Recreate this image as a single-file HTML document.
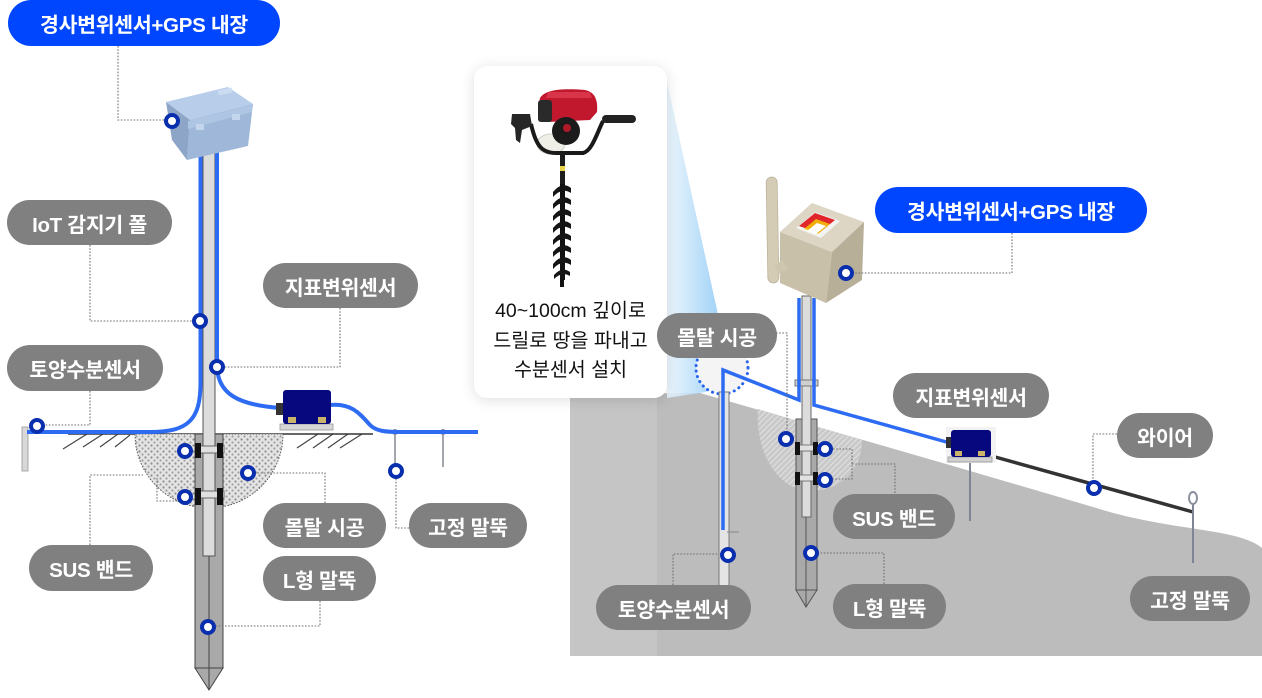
<!DOCTYPE html>
<html><head><meta charset="utf-8">
<style>
html,body{margin:0;padding:0;background:#fff;}
body{width:1262px;height:698px;position:relative;overflow:hidden;font-family:"Liberation Sans","Noto Sans CJK KR",sans-serif;}
svg{position:absolute;left:0;top:0;}
.p{position:absolute;height:45px;border-radius:23px;background:#808080;color:#fff;font-size:20.5px;font-weight:600;display:flex;align-items:center;justify-content:center;white-space:nowrap;letter-spacing:-0.3px;font-family:"Liberation Sans","Noto Sans CJK KR",sans-serif;}
.b{background:#0046ff;height:46px;}
.card{position:absolute;left:474px;top:66px;width:193px;height:332px;background:#fff;border-radius:13px;box-shadow:0 2px 14px rgba(0,0,0,0.13);}
.ct{position:absolute;left:474px;top:297px;width:193px;text-align:center;font-size:19.5px;line-height:29.5px;color:#111;font-family:"Liberation Sans","Noto Sans CJK KR",sans-serif;}
</style></head><body>
<svg width="1262" height="698" viewBox="0 0 1262 698">
<defs>
<pattern id="stip" width="6" height="6" patternUnits="userSpaceOnUse">
<rect width="6" height="6" fill="#e4e4e4"/>
<circle cx="1.5" cy="1.5" r="1.1" fill="#8d8d8d"/>
<circle cx="4.5" cy="4.5" r="1.1" fill="#a0a0a0"/>
</pattern>
<pattern id="hatch" width="4" height="4" patternUnits="userSpaceOnUse" patternTransform="rotate(45)">
<rect width="4" height="4" fill="#c9c9c9"/>
<line x1="0" y1="0" x2="0" y2="4" stroke="#ececec" stroke-width="1.4"/>
</pattern>
<linearGradient id="cone" x1="0" y1="0" x2="1" y2="0">
<stop offset="0" stop-color="#eaf5fd"/>
<stop offset="1" stop-color="#86c5f4"/>
</linearGradient>
</defs>

<!-- ================= LEFT DIAGRAM ================= -->
<g stroke="#444" stroke-width="1.2">
<line x1="63" y1="449" x2="87" y2="434"/><line x1="83" y1="447" x2="103" y2="434"/>
<line x1="100" y1="447" x2="118" y2="434"/><line x1="115" y1="447" x2="130" y2="435"/>
<line x1="297" y1="448" x2="318" y2="434"/><line x1="313" y1="448" x2="333" y2="434"/>
<line x1="328" y1="448" x2="348" y2="434"/><line x1="340" y1="448" x2="362" y2="434"/>
</g>
<line x1="68" y1="434" x2="373" y2="434" stroke="#333" stroke-width="1.5"/>
<path d="M135,434 A74,74 0 0,0 283,434 Z" fill="url(#stip)" stroke="#555" stroke-width="1" stroke-dasharray="1.5 1.5"/>
<rect x="195" y="434" width="28" height="234" fill="#a9a9a9" stroke="#444" stroke-width="1"/>
<polygon points="195,668 223,668 209,690" fill="#a9a9a9" stroke="#444" stroke-width="1"/>
<line x1="195" y1="668" x2="223" y2="668" stroke="#444"/>
<line x1="209" y1="556" x2="209" y2="690" stroke="#444" stroke-width="1"/>
<rect x="203" y="148" width="12" height="408" fill="#dcdcdc" stroke="#555" stroke-width="1"/>
<rect x="199" y="446" width="25" height="7" fill="#e0e0e0" stroke="#666" stroke-width="1"/>
<rect x="195" y="443" width="6" height="15" fill="#111"/><rect x="217" y="443" width="6" height="15" fill="#111"/>
<rect x="199" y="491" width="25" height="7" fill="#e0e0e0" stroke="#666" stroke-width="1"/>
<rect x="195" y="488" width="6" height="17" fill="#111"/><rect x="217" y="488" width="6" height="17" fill="#111"/>
<rect x="22" y="427" width="6" height="44" fill="#d8d8d8" stroke="#999" stroke-width="0.8"/>
<line x1="395" y1="432" x2="395" y2="468" stroke="#8a8f99" stroke-width="1.6"/>
<circle cx="395" cy="432" r="2.5" fill="none" stroke="#8a8f99" stroke-width="1"/>
<line x1="443" y1="432" x2="443" y2="467" stroke="#8a8f99" stroke-width="1.6"/>
<circle cx="443" cy="432" r="2.5" fill="none" stroke="#8a8f99" stroke-width="1"/>
<g fill="none" stroke="#2d6cf2" stroke-width="4">
<path d="M200.5,152 V383 C200.5,420 188,432 150,432 H27"/>
<path d="M217,152 V365 C217,395 240,405 280,408"/>
<path d="M330,405 C352,403 360,414 370,425 C376,431 385,432 400,432 H478"/>
</g>
<rect x="280" y="424" width="53" height="6" fill="#d6d6d6" stroke="#999" stroke-width="0.8"/>
<rect x="276" y="403" width="8" height="12" fill="#333"/>
<rect x="283" y="390" width="48" height="34" rx="3" fill="#07077e"/>
<rect x="288" y="417" width="8" height="6" fill="#c9b46a"/><rect x="318" y="417" width="8" height="6" fill="#c9b46a"/>
<polygon points="166,102 228,87 253,104 190,120" fill="#b7cdea"/>
<polygon points="190,120 253,104 248,146 187,160" fill="#9fb8d9"/>
<polygon points="166,102 190,120 187,160 172,140" fill="#8da6c7"/>
<polygon points="188,121 252,105 252,112 188,129" fill="#aec6e4"/>
<rect x="196" y="124" width="8" height="6" fill="#c3d6ee"/><rect x="232" y="114" width="8" height="6" fill="#c3d6ee"/>
<rect x="218" y="89" width="14" height="5" fill="#cbdcf1" transform="rotate(-12 225 91)"/>

<!-- ================= RIGHT DIAGRAM ================= -->
<path d="M570,394 L700,393 L960,468 L1093,507 C1140,522 1180,526 1215,532 C1240,536 1255,542 1262,548 V656 H570 Z" fill="#bcbcbc"/>
<rect x="570" y="394" width="87" height="262" fill="#c5c5c5"/>
<polygon points="667,82 728,360 706,392 667,398" fill="url(#cone)" opacity="0.88"/>
<path d="M758,409 L862,440 C862,470 840,491 810,491 C780,491 755,455 758,409 Z" fill="url(#hatch)"/>
<circle cx="722" cy="368" r="26" fill="#f4f4f4" stroke="#2563f0" stroke-width="3" stroke-dasharray="0.1 5.5" stroke-linecap="round"/>
<rect x="719" y="392" width="10" height="195" fill="#e4e4e4" stroke="#777" stroke-width="1"/>
<line x1="727" y1="532" x2="739" y2="532" stroke="#888" stroke-width="1"/>
<rect x="796" y="419" width="21" height="171" fill="#a9a9a9" stroke="#555" stroke-width="1"/>
<polygon points="796,590 817,590 806,607" fill="#a9a9a9" stroke="#555" stroke-width="1"/>
<line x1="806" y1="517" x2="806" y2="607" stroke="#555" stroke-width="1"/>
<rect x="802" y="296" width="9" height="221" fill="#dcdcdc" stroke="#666" stroke-width="1"/>
<rect x="795" y="380" width="23" height="6" fill="#cfcfcf" stroke="#777" stroke-width="1"/>
<rect x="798" y="445" width="18" height="6" fill="#e0e0e0" stroke="#666" stroke-width="0.8"/>
<rect x="795" y="442" width="5" height="13" fill="#111"/><rect x="813" y="442" width="5" height="13" fill="#111"/>
<rect x="798" y="475" width="18" height="6" fill="#e0e0e0" stroke="#666" stroke-width="0.8"/>
<rect x="795" y="472" width="5" height="13" fill="#111"/><rect x="813" y="472" width="5" height="13" fill="#111"/>
<g fill="none" stroke="#2d6cf2" stroke-width="3.5">
<path d="M799,298 V400 L723,370 V530"/>
<path d="M814,298 V405 L950,443"/>
</g>
<line x1="988" y1="455" x2="1193" y2="512" stroke="#333" stroke-width="3.5"/>
<line x1="1193" y1="504" x2="1193" y2="563" stroke="#7e8696" stroke-width="2"/>
<ellipse cx="1193" cy="498" rx="4" ry="6" fill="none" stroke="#8a909c" stroke-width="2"/>
<line x1="970" y1="460" x2="970" y2="521" stroke="#7e8696" stroke-width="2"/>
<rect x="946" y="427" width="50" height="36" fill="#f2f2f2"/>
<rect x="948" y="457" width="44" height="5" fill="#d0d0d0" stroke="#999" stroke-width="0.8"/>
<rect x="946" y="437" width="6" height="11" fill="#333"/>
<rect x="951" y="430" width="40" height="27" rx="3" fill="#07077e"/>
<rect x="955" y="451" width="7" height="5" fill="#c9b46a"/><rect x="978" y="451" width="7" height="5" fill="#c9b46a"/>
<rect x="767" y="177" width="11" height="106" rx="5.5" fill="#d5ccb6" stroke="#bdb49d" stroke-width="0.8" transform="rotate(-1 772 230)"/>
<polygon points="780,232 812,203 864,222 832,252" fill="#ddd6c4"/>
<polygon points="780,232 832,252 826,303 780,283" fill="#c9c0aa"/>
<polygon points="832,252 864,222 862,280 826,303" fill="#b8af98"/>
<polygon points="796,228 815,212 840,221 821,238" fill="#f3f3f3"/>
<polygon points="799,226 815,213 835,220 819,233" fill="#e0262b"/>
<polygon points="804,229 816,219 830,224 818,234" fill="#f5d000" opacity="0.8"/>
<polygon points="807,231 817,223 826,226 816,234" fill="#ffffff"/>
<rect x="776" y="262" width="10" height="10" fill="#cfc6b0" transform="rotate(-30 781 267)"/>

<!-- ================= DOTTED LEADERS ================= -->
<g fill="none" stroke="#6e6e6e" stroke-width="1.1" stroke-dasharray="1.6 1.6">
<path d="M118,46 V120 H165"/>
<path d="M90,245 V321 H193"/>
<path d="M340,308 V367 H225"/>
<path d="M90,391 V425 H45"/>
<path d="M90,545 V475 H143"/>
<path d="M157,478 V501 H178"/>
<path d="M325,503 V473 H256"/>
<path d="M320,601 V626 H216"/>
<path d="M409,528 H396 V478"/>
<path d="M1012,233 V273 H855"/>
<path d="M776,333 H787 V431"/>
<path d="M833,449 H852 V479 H833"/>
<path d="M852,464 H895 V494"/>
<path d="M673,585 V554 H719"/>
<path d="M884,584 V553 H820"/>
<path d="M1117,434 H1093 V480"/>
</g>

<!-- ================= MARKERS ================= -->
<g fill="#fff" stroke="#0a2fae" stroke-width="4">
<circle cx="172" cy="121" r="6"/>
<circle cx="200" cy="321" r="6"/>
<circle cx="217" cy="367" r="6"/>
<circle cx="37" cy="426" r="6"/>
<circle cx="185" cy="451" r="6"/>
<circle cx="185" cy="497" r="6"/>
<circle cx="248" cy="473" r="6"/>
<circle cx="208" cy="627" r="6"/>
<circle cx="396" cy="471" r="6"/>
<circle cx="846" cy="273" r="6"/>
<circle cx="786" cy="439" r="6"/>
<circle cx="825" cy="449" r="6"/>
<circle cx="825" cy="480" r="6"/>
<circle cx="728" cy="555" r="6"/>
<circle cx="811" cy="553" r="6"/>
<circle cx="1094" cy="488" r="6"/>
</g>
</svg>

<div class="card"></div>
<svg width="1262" height="698" viewBox="0 0 1262 698" style="pointer-events:none">
<g>
<path d="M540,98 C545,90 560,88 585,90 C595,92 598,100 597,112 L590,120 L548,122 C540,118 538,108 540,98 Z" fill="#c1182e"/>
<path d="M548,92 H590 L592,98 H546 Z" fill="#d8344a"/>
<rect x="538" y="100" width="14" height="22" rx="3" fill="#2a2a2a"/>
<ellipse cx="551" cy="144" rx="14" ry="10" fill="#efefe8" stroke="#cfcfc8" stroke-width="1"/>
<circle cx="566" cy="131" r="14" fill="#1b1b1b"/>
<circle cx="567" cy="128" r="4" fill="#b01a28"/>
<path d="M531,124 C536,146 542,153 556,153 H583 C592,151 597,133 603,121" fill="none" stroke="#1a1a1a" stroke-width="4"/>
<rect x="602" y="115" width="34" height="8" rx="4" fill="#222"/>
<path d="M512,114 H530 L532,126 L522,130 L520,143 L516,140 L515,128 L511,124 Z" fill="#262626"/>
<rect x="560" y="153" width="5" height="34" fill="#1d1d1d"/>
<rect x="560" y="166" width="5" height="5" fill="#e8d44a"/>
<rect x="560" y="184" width="5" height="96" fill="#111"/>
<g fill="#151515">
<path d="M553,192 Q562,181 571,188 L571,193 Q562,187 553,197 Z"/>
<path d="M553,204 Q562,193 571,200 L571,205 Q562,199 553,209 Z"/>
<path d="M553,216 Q562,205 571,212 L571,217 Q562,211 553,221 Z"/>
<path d="M553,228 Q562,217 571,224 L571,229 Q562,223 553,233 Z"/>
<path d="M553,240 Q562,229 571,236 L571,241 Q562,235 553,245 Z"/>
<path d="M553,252 Q562,241 571,248 L571,253 Q562,247 553,257 Z"/>
<path d="M553,264 Q562,253 571,260 L571,265 Q562,259 553,269 Z"/>
<path d="M554,275 Q562,266 570,272 L570,276 Q562,271 554,279 Z"/>
</g>
<rect x="560" y="279" width="4" height="8" fill="#111"/>
</g>
</svg>
<div class="ct">40~100cm 깊이로<br>드릴로 땅을 파내고<br>수분센서 설치</div>

<div class="p b" style="left:8px;top:0;width:272px;">경사변위센서+GPS 내장</div>
<div class="p" style="left:7px;top:200px;width:165px;">IoT 감지기 폴</div>
<div class="p" style="left:263px;top:263px;width:155px;">지표변위센서</div>
<div class="p" style="left:7px;top:345px;width:156px;height:46px;">토양수분센서</div>
<div class="p" style="left:29px;top:545px;width:124px;height:46px;">SUS 밴드</div>
<div class="p" style="left:263px;top:503px;width:123px;">몰탈 시공</div>
<div class="p" style="left:263px;top:556px;width:113px;">L형 말뚝</div>
<div class="p" style="left:409px;top:503px;width:118px;">고정 말뚝</div>
<div class="p b" style="left:875px;top:187px;width:272px;">경사변위센서+GPS 내장</div>
<div class="p" style="left:657px;top:313px;width:120px;">몰탈 시공</div>
<div class="p" style="left:893px;top:373px;width:156px;">지표변위센서</div>
<div class="p" style="left:1117px;top:413px;width:96px;">와이어</div>
<div class="p" style="left:833px;top:494px;width:122px;">SUS 밴드</div>
<div class="p" style="left:596px;top:585px;width:155px;">토양수분센서</div>
<div class="p" style="left:833px;top:584px;width:113px;">L형 말뚝</div>
<div class="p" style="left:1130px;top:576px;width:120px;">고정 말뚝</div>
</body></html>
